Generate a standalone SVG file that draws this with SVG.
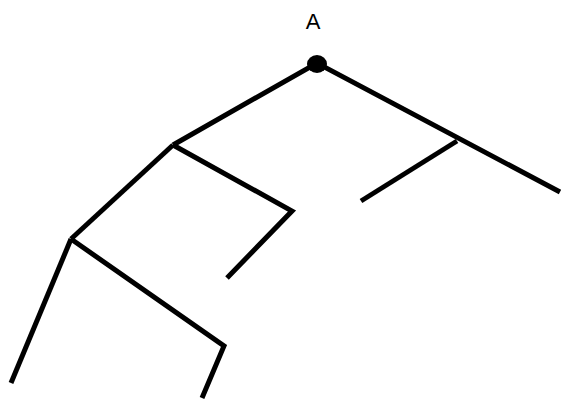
<svg xmlns="http://www.w3.org/2000/svg" width="562" height="405" viewBox="0 0 562 405">
<style>
.e{stroke:#000;stroke-width:5;fill:none;stroke-linecap:butt;stroke-linejoin:miter}
.t{font-family:"Liberation Sans",Arial,sans-serif;font-size:22px;fill:#000}
</style>
<rect width="562" height="405" fill="#fff"/>
<g id="edges">
<polyline class="e" points="173,145 317,63 560,192"/>
<line class="e" x1="457" y1="141" x2="361" y2="201"/>
<polyline class="e" points="173,145 292,211 227,278"/>
<line class="e" x1="173" y1="145" x2="71" y2="239"/>
<line class="e" x1="71" y1="239" x2="11" y2="383"/>
<polyline class="e" points="71,239 224,346 202,398"/>
</g>
<g id="nodeA">
<ellipse cx="317" cy="64" rx="10" ry="9" fill="#000"/>
<text class="t" x="313" y="29" text-anchor="middle">A</text>
</g>
</svg>
